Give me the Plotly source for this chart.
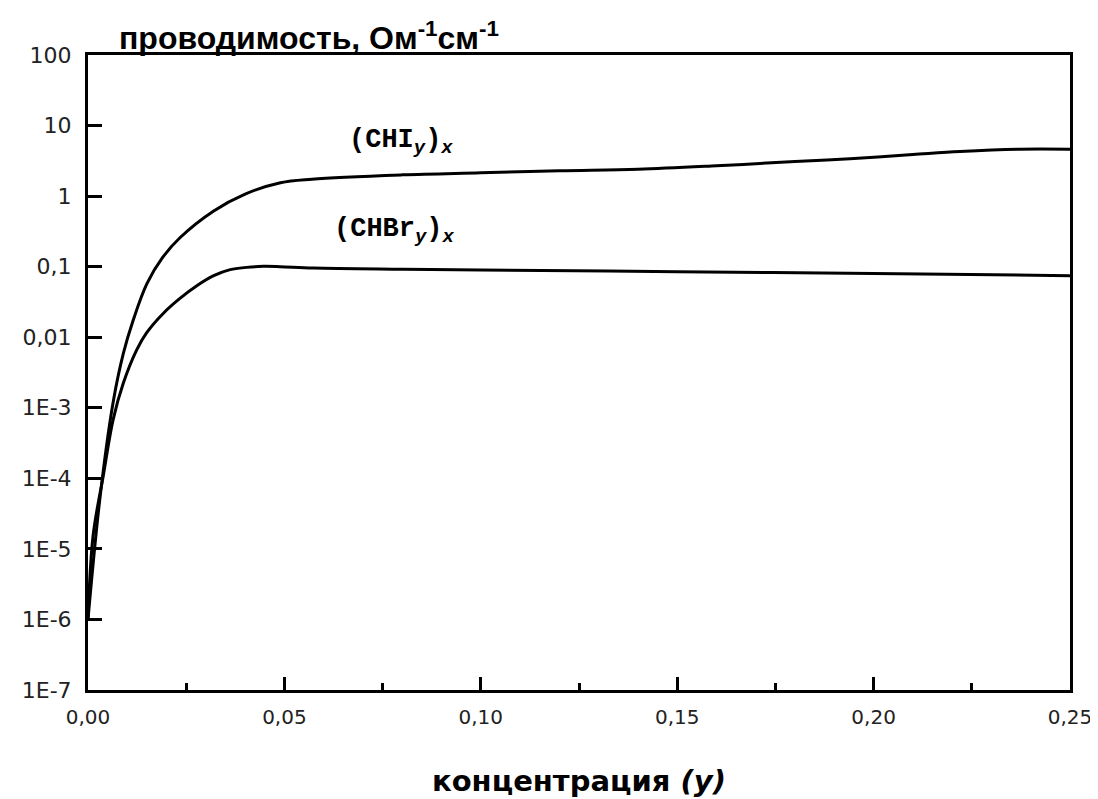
import plotly.graph_objects as go

# (CHI_y)_x curve
chi_x = [0.0, 0.003, 0.0064, 0.009, 0.0115, 0.015, 0.019, 0.0234, 0.032, 0.040, 0.049, 0.057,
         0.08, 0.10, 0.12, 0.14, 0.16, 0.18, 0.194, 0.21, 0.222, 0.237, 0.25]
chi_y = [1e-6, 5e-5, 1.2e-3, 5.9e-3, 0.0174, 0.0575, 0.135, 0.257, 0.617, 1.07, 1.55, 1.74,
         2.0, 2.14, 2.29, 2.4, 2.69, 3.09, 3.39, 3.89, 4.3, 4.63, 4.63]

# (CHBr_y)_x curve
chbr_x = [0.0, 0.0013, 0.0039, 0.0064, 0.009, 0.0124, 0.0149, 0.0192, 0.0234, 0.0277, 0.032,
          0.0362, 0.0404, 0.0446, 0.0489, 0.0573, 0.08, 0.10, 0.15, 0.20, 0.25]
chbr_y = [1e-6, 1.55e-5, 1.1e-4, 6.8e-4, 2.24e-3, 6.6e-3, 0.0115, 0.0219, 0.0355, 0.0537, 0.0746,
          0.0908, 0.0977, 0.101, 0.1, 0.0955, 0.092, 0.090, 0.085, 0.080, 0.0746]

y_tickvals = [1e-7, 1e-6, 1e-5, 1e-4, 1e-3, 0.01, 0.1, 1, 10, 100]
y_ticktext = ["1E-7", "1E-6", "1E-5", "1E-4", "1E-3", "0,01", "0,1", "1", "10", "100"]
x_tickvals = [0.0, 0.05, 0.10, 0.15, 0.20, 0.25]
x_ticktext = ["0,00", "0,05", "0,10", "0,15", "0,20", "0,25"]

fig = go.Figure()
for xs, ys in [(chi_x, chi_y), (chbr_x, chbr_y)]:
    fig.add_trace(go.Scatter(x=xs, y=ys, mode="lines",
                             line=dict(color="black", width=3, shape="spline", smoothing=1.0),
                             showlegend=False, hoverinfo="skip"))

fig.update_layout(
    width=1098, height=799,
    paper_bgcolor="white", plot_bgcolor="white",
    margin=dict(l=80, r=36, t=47, b=117),
    font=dict(family="Liberation Sans, Arial", color="black"),
)
fig.update_xaxes(range=[0, 0.25], tickvals=x_tickvals, ticktext=x_ticktext,
                 ticks="inside", ticklen=13, tickwidth=3, tickcolor="black",
                 minor=dict(ticks="inside", ticklen=7, tickwidth=3, tickcolor="black", dtick=0.025),
                 showline=True, linecolor="black", linewidth=3, mirror=True,
                 showgrid=False, zeroline=False, ticklabeloverflow="allow",
                 tickfont=dict(size=20, family="DejaVu Sans", color="#222"), ticklabelstandoff=7)
fig.update_yaxes(type="log", range=[-7, 2], tickvals=y_tickvals, ticktext=y_ticktext,
                 ticks="inside", ticklen=14, tickwidth=3, tickcolor="black",
                 showline=True, linecolor="black", linewidth=3, mirror=True,
                 showgrid=False, zeroline=False,
                 tickfont=dict(size=22, family="DejaVu Sans", color="#222"), ticklabelstandoff=9)

fig.add_annotation(text="<b>проводимость, Ом<sup>-1</sup>см<sup>-1</sup></b>",
                   xref="paper", yref="paper", x=0.03, y=0.995, xanchor="left", yanchor="bottom",
                   showarrow=False, font=dict(size=32, family="Liberation Sans, Arial"))
fig.add_annotation(text="<b>концентрация <i>(y)</i></b>",
                   xref="paper", yref="paper", x=0.5, y=-0.113, xanchor="center", yanchor="top",
                   showarrow=False, font=dict(size=29, family="DejaVu Sans"))
fig.add_annotation(text="<b>(CHI<sub><i>y</i></sub>)<sub><i>x</i></sub></b>",
                   xref="x", yref="y", x=0.066, y=0.77, xanchor="left", yanchor="middle",
                   showarrow=False, font=dict(size=27, family="Liberation Mono, Courier New"))
fig.add_annotation(text="<b>(CHBr<sub><i>y</i></sub>)<sub><i>x</i></sub></b>",
                   xref="x", yref="y", x=0.062, y=-0.49, xanchor="left", yanchor="middle",
                   showarrow=False, font=dict(size=27, family="Liberation Mono, Courier New"))

fig.write_html("out.html")
